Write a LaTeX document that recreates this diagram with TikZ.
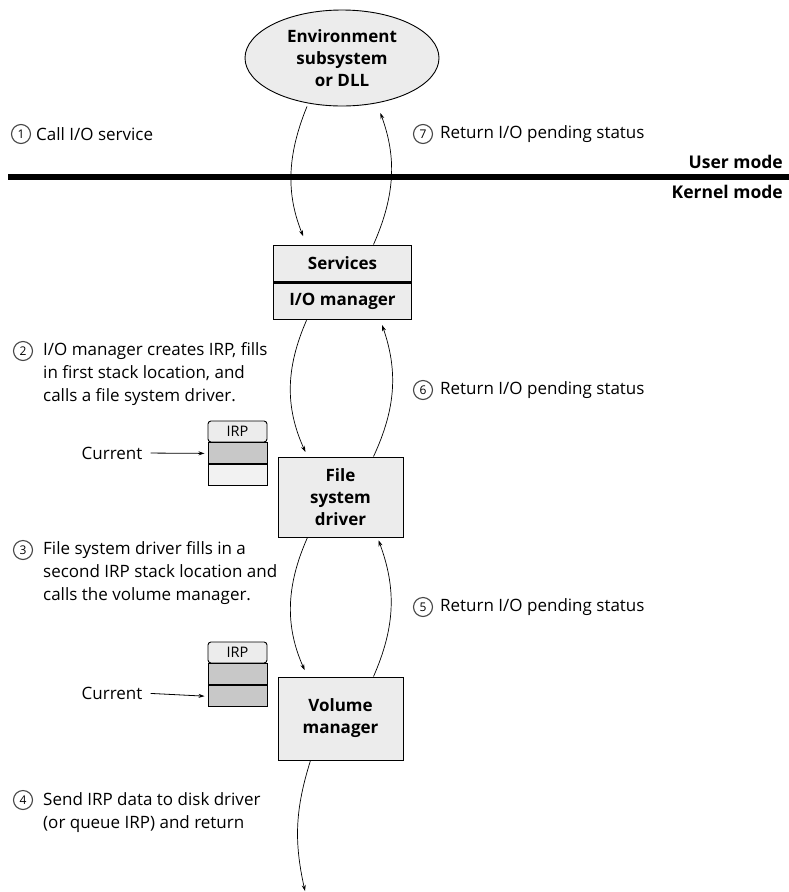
\documentclass[tikz,border=0pt]{standalone}
\usepackage{fontspec}
\setmainfont{Open Sans}
\usetikzlibrary{shapes.geometric,arrows.meta,positioning}
\definecolor{boxgray}{RGB}{236,236,236}
\definecolor{slotgray}{RGB}{200,200,200}
\definecolor{slotlight}{RGB}{242,242,242}
\definecolor{ringgray}{RGB}{70,70,70}

\begin{document}
\begin{tikzpicture}[x=1pt, y=-1pt,
  layer/.style={draw, line width=0.9pt, fill=boxgray, align=center, inner sep=0pt,
    font=\bfseries\fontsize{17}{22}\selectfont},
  note/.style={align=left, inner sep=0pt, font=\fontsize{17}{23}\selectfont},
  num/.style={circle, draw=ringgray, line width=1.1pt, minimum size=19pt, inner sep=0pt,
    font=\fontsize{12}{12}\selectfont},
  modelabel/.style={inner sep=0pt, anchor=east, font=\bfseries\fontsize{17.5}{17.5}\selectfont},
  slot/.style={draw, line width=0.9pt, minimum width=59pt, minimum height=21pt, inner sep=0pt,
    font=\fontsize{14.5}{14.5}\selectfont},
  flow/.style={-{Stealth[length=6pt,width=4pt]}, line width=0.7pt},
  pointer/.style={-{Stealth[length=6pt,width=4pt]}, line width=0.8pt}]

\fill[white] (0,0) rectangle (789,892);
\useasboundingbox (0,0) rectangle (789,892);

% User/kernel boundary
\draw[line width=6pt] (8,177) -- (789,177);
\node[modelabel] (user) at (783,162) {User mode};
\node[modelabel] (kernel) at (783,192) {Kernel mode};

% Layers
\node[layer, ellipse, minimum width=194pt, minimum height=96pt] (env) at (342,58)
  {Environment\\subsystem\\or DLL};
\node[layer, minimum width=138pt, minimum height=37pt] (svc) at (342.5,263.5) {Services};
\node[layer, minimum width=138pt, minimum height=37pt, below=0pt of svc] (iom) {I/O manager};
\draw[line width=2.5pt] (svc.south west) -- (svc.south east);
\node[layer, minimum width=125pt, minimum height=80pt] (fsd) at (340.5,497) {File\\system\\driver};
\node[layer, minimum width=125pt, minimum height=83pt] (vm) at (340.5,718.5) {Volume\\manager};
\coordinate (disk) at (305,891);

% Calls down, returns up
\draw[flow, shorten >=9pt] ([xshift=-35pt]env.south) to[bend right=22] ([xshift=-36pt]svc.north);
\draw[flow, shorten >=7pt] ([xshift=31pt]svc.north) to[bend right=22] ([xshift=36pt]env.south);
\draw[flow, shorten >=5pt] ([xshift=-36pt]iom.south) to[bend right=24] ([xshift=-33pt]fsd.north);
\draw[flow, shorten >=5pt] ([xshift=33pt]fsd.north) to[bend right=22] ([xshift=38pt]iom.south);
\draw[flow, shorten >=7pt] ([xshift=-33pt]fsd.south) to[bend right=24] ([xshift=-33pt]vm.north);
\draw[flow, shorten >=3pt] ([xshift=33pt]vm.north) to[bend right=22] ([xshift=37pt]fsd.south);
\draw[flow] ([xshift=-30pt]vm.south) to[bend right=15] (disk);

% IRP stack locations
\foreach \s/\y/\c in {A/431.5/slotlight, B/652.5/slotgray} {
  \node[slot, fill=boxgray, rounded corners=3pt] (irp\s) at (237.5,\y) {IRP};
  \node[slot, fill=slotgray, below=0pt of irp\s] (irp\s1) {};
  \node[slot, fill=\c, below=0pt of irp\s1] (irp\s2) {};
}
\node[note] (curA) at (112,453) {Current};
\draw[pointer, shorten <=8pt, shorten >=3pt] (curA.east) -- (irpA1.west);
\node[note] (curB) at (112,693) {Current};
\draw[pointer, shorten <=8pt, shorten >=3pt] (curB.east) -- (irpB2.west);

% Steps on the way down
\node[num] (n1) at (21,134) {1};
\node[note, anchor=west] (t1) at (36,134) {Call I/O service};
\node[num] (n2) at (23,351) {2};
\node[note, anchor=north west] (t2) at (43,342)
  {I/O manager creates IRP, fills\\in first stack location, and\\calls a file system driver.};
\node[num] (n3) at (23,550) {3};
\node[note, anchor=north west] (t3) at (43,541)
  {File system driver fills in a\\second IRP stack location and\\calls the volume manager.};
\node[num] (n4) at (23,800) {4};
\node[note, anchor=north west] (t4) at (43,792)
  {Send IRP data to disk driver\\(or queue IRP) and return};

% Steps on the way back
\foreach \n/\y in {7/134, 6/390, 5/607} {
  \node[num] (r\n) at (423,\y) {\n};
  \node[note, anchor=west] (ret\n) at (440,\y) {Return I/O pending status};
}

\end{tikzpicture}
\end{document}
